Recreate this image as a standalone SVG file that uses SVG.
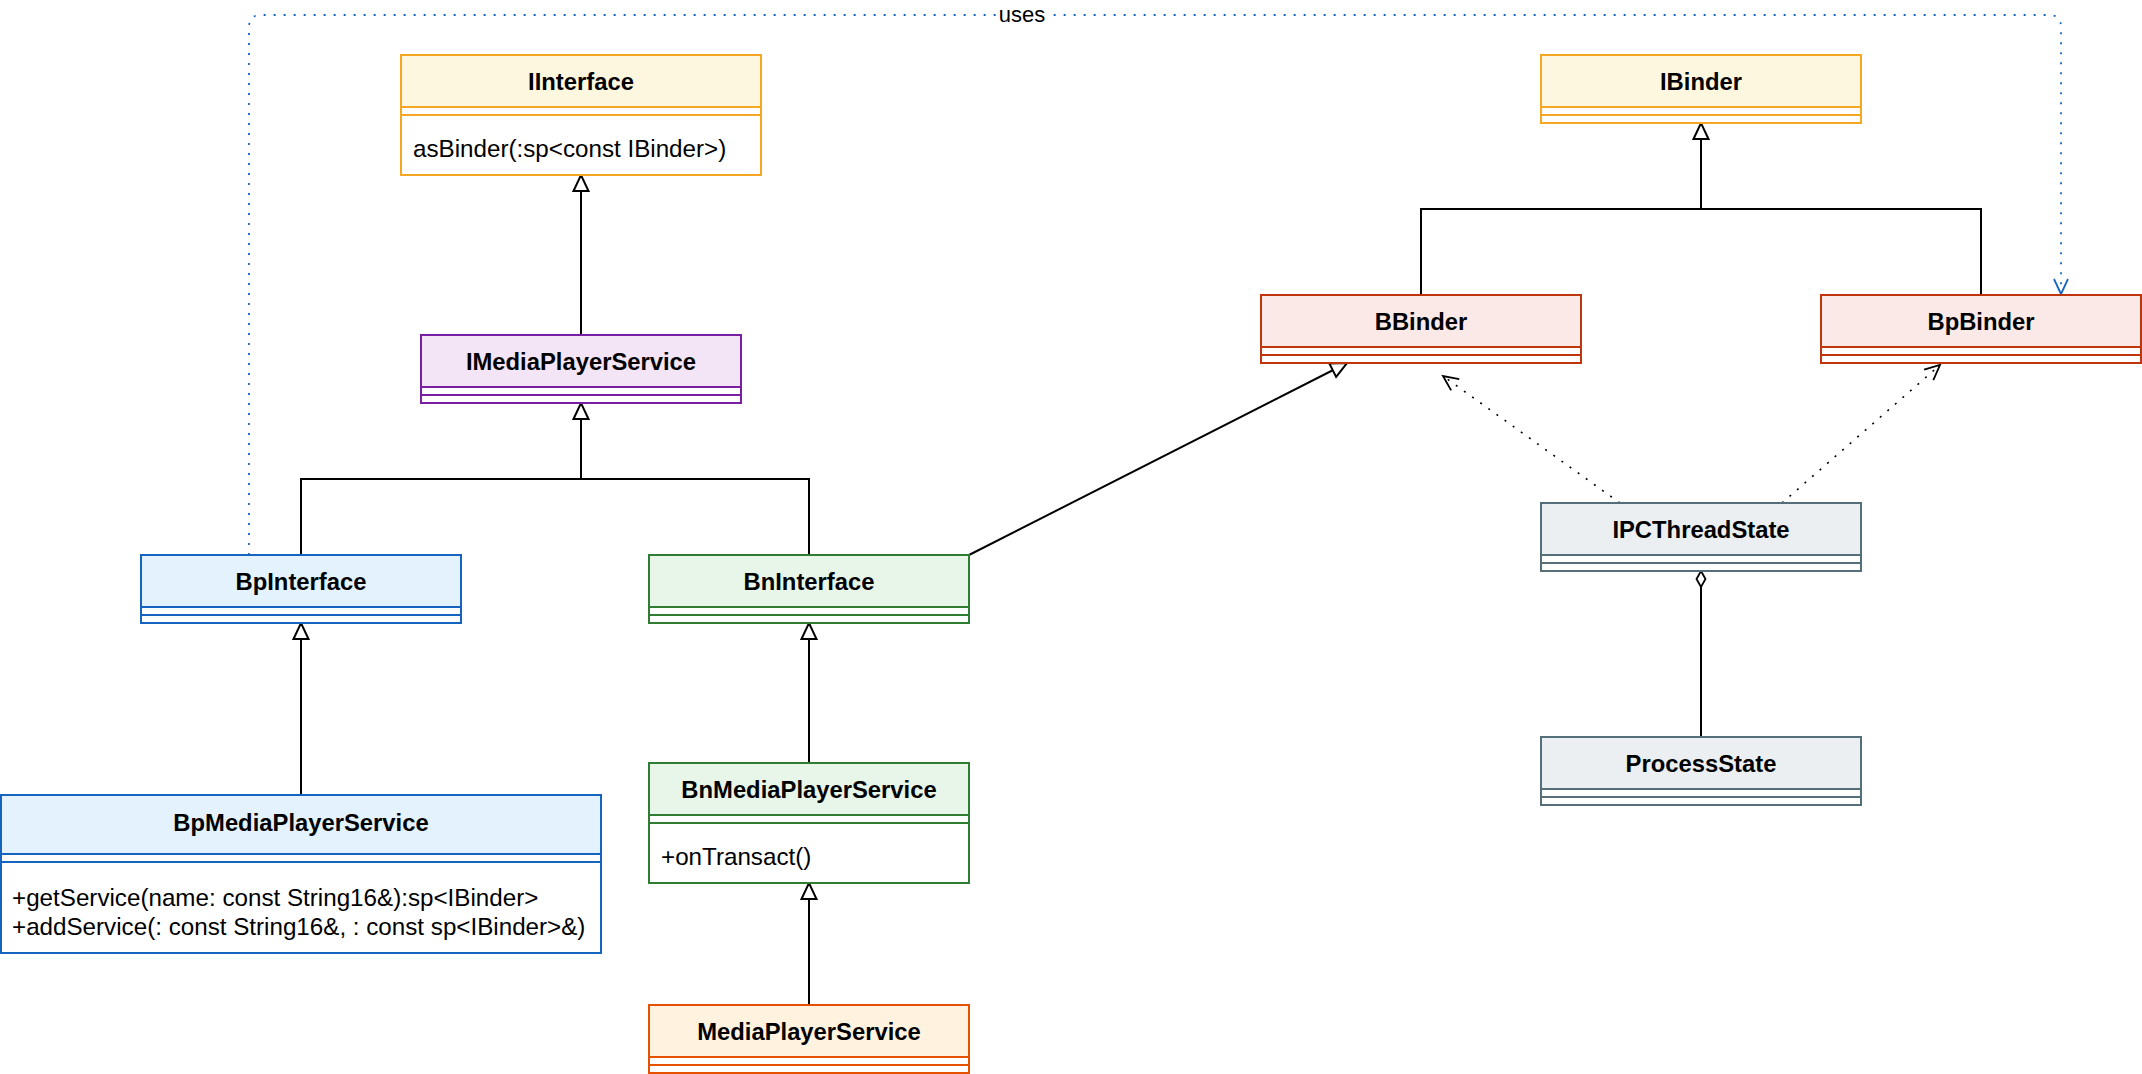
<svg xmlns="http://www.w3.org/2000/svg" width="2142" height="1074" viewBox="0 0 2142 1074">
<style>
.bg{fill:#ffffff}
.t{font-family:"Liberation Sans",Arial,Helvetica,sans-serif;font-size:23.8px;font-weight:bold;fill:#000;text-anchor:middle}
.m{font-family:"Liberation Sans",Arial,Helvetica,sans-serif;font-size:24.2px;fill:#000}
.lbl{font-family:"Liberation Sans",Arial,Helvetica,sans-serif;font-size:22px;fill:#000;text-anchor:middle}
.box{stroke-width:2}
.yel{fill:#fef7df;stroke:#f5a623}
.pur{fill:#f3e5f5;stroke:#7b1fa2}
.blu{fill:#e3f2fd;stroke:#1565c0}
.grn{fill:#e8f5e9;stroke:#2e7d32}
.org{fill:#fff3e0;stroke:#e65100}
.red{fill:#fbe9e7;stroke:#bf360c}
.gry{fill:#eceff1;stroke:#546e7a}
.wh{fill:#ffffff}
.ln{fill:none;stroke:#000;stroke-width:2}
.dot{fill:none;stroke:#000;stroke-width:1.6;stroke-dasharray:2 8}
.uses{fill:none;stroke:#1565c0;stroke-width:1.8;stroke-dasharray:2 8}
</style>
<defs>
<marker id="gen" viewBox="0 0 17 16" markerWidth="17" markerHeight="16" refX="17" refY="8" orient="auto" markerUnits="userSpaceOnUse" overflow="visible">
<path d="M1,0.5 L17,8 L1,15.5 Z" fill="#fff" stroke="#000" stroke-width="2"/>
</marker>
<marker id="open" viewBox="0 0 15 14" markerWidth="15" markerHeight="14" refX="15" refY="7" orient="auto" markerUnits="userSpaceOnUse" overflow="visible">
<path d="M0,0 L15,7 L0,14" fill="none" stroke="#000" stroke-width="1.8"/>
</marker>
<marker id="openblue" viewBox="0 0 15 14" markerWidth="15" markerHeight="14" refX="15" refY="7" orient="auto" markerUnits="userSpaceOnUse" overflow="visible">
<path d="M0,0 L15,7 L0,14" fill="none" stroke="#1565c0" stroke-width="1.8"/>
</marker>
</defs>
<rect class="bg" x="0" y="0" width="2142" height="1074"/>

<g id="connectors">
<path class="ln" d="M581,335 L581,175" marker-end="url(#gen)"/>
<path class="ln" d="M809,555 L809,479 L581,479"/>
<path class="ln" d="M301,555 L301,479 L581,479 L581,403" marker-end="url(#gen)"/>
<path class="ln" d="M301,795 L301,623" marker-end="url(#gen)"/>
<path class="ln" d="M809,763 L809,623" marker-end="url(#gen)"/>
<path class="ln" d="M809,1005 L809,883" marker-end="url(#gen)"/>
<path class="ln" d="M969,555 L1347,363" marker-end="url(#gen)"/>
<path class="ln" d="M1981,295 L1981,209 L1701,209"/>
<path class="ln" d="M1421,295 L1421,209 L1701,209 L1701,123" marker-end="url(#gen)"/>
<path class="dot" d="M1620,503 L1443,376" marker-end="url(#open)"/>
<path class="dot" d="M1782,503 L1940,365" marker-end="url(#open)"/>
<path class="ln" d="M1701,737 L1701,587"/>
<polygon points="1701,571 1705.5,579 1701,587 1696.5,579" fill="#fff" stroke="#000" stroke-width="1.8"/>
<path class="uses" d="M249,555 L249,27 Q249,15 261,15 L2049,15 Q2061,15 2061,27 L2061,294" marker-end="url(#openblue)"/>
<rect x="999" y="3" width="47" height="24" fill="#fff"/>
<text class="lbl" x="1022" y="22">uses</text>
</g>

<g id="IInterface">
<rect class="box yel wh" x="401" y="55" width="360" height="120"/>
<rect class="box yel" x="401" y="55" width="360" height="52"/>
<line x1="401" y1="115" x2="761" y2="115" stroke="#f5a623" stroke-width="2"/>
<text class="t" x="581" y="90">IInterface</text>
<text class="m" x="413" y="157">asBinder(:sp&lt;const IBinder&gt;)</text>
</g>

<g id="IMediaPlayerService">
<rect class="box pur wh" x="421" y="335" width="320" height="68"/>
<rect class="box pur" x="421" y="335" width="320" height="52"/>
<line x1="421" y1="395" x2="741" y2="395" stroke="#7b1fa2" stroke-width="2"/>
<text class="t" x="581" y="370">IMediaPlayerService</text>
</g>

<g id="BpInterface">
<rect class="box blu wh" x="141" y="555" width="320" height="68"/>
<rect class="box blu" x="141" y="555" width="320" height="52"/>
<line x1="141" y1="615" x2="461" y2="615" stroke="#1565c0" stroke-width="2"/>
<text class="t" x="301" y="590">BpInterface</text>
</g>

<g id="BnInterface">
<rect class="box grn wh" x="649" y="555" width="320" height="68"/>
<rect class="box grn" x="649" y="555" width="320" height="52"/>
<line x1="649" y1="615" x2="969" y2="615" stroke="#2e7d32" stroke-width="2"/>
<text class="t" x="809" y="590">BnInterface</text>
</g>

<g id="BpMediaPlayerService">
<rect class="box blu wh" x="1" y="795" width="600" height="158"/>
<rect class="box blu" x="1" y="795" width="600" height="59"/>
<line x1="1" y1="862" x2="601" y2="862" stroke="#1565c0" stroke-width="2"/>
<text class="t" x="301" y="831">BpMediaPlayerService</text>
<text class="m" x="12" y="906">+getService(name: const String16&amp;):sp&lt;IBinder&gt;</text>
<text class="m" x="12" y="935">+addService(: const String16&amp;, : const sp&lt;IBinder&gt;&amp;)</text>
</g>

<g id="BnMediaPlayerService">
<rect class="box grn wh" x="649" y="763" width="320" height="120"/>
<rect class="box grn" x="649" y="763" width="320" height="52"/>
<line x1="649" y1="823" x2="969" y2="823" stroke="#2e7d32" stroke-width="2"/>
<text class="t" x="809" y="798">BnMediaPlayerService</text>
<text class="m" x="661" y="865">+onTransact()</text>
</g>

<g id="MediaPlayerService">
<rect class="box org wh" x="649" y="1005" width="320" height="68"/>
<rect class="box org" x="649" y="1005" width="320" height="52"/>
<line x1="649" y1="1065" x2="969" y2="1065" stroke="#e65100" stroke-width="2"/>
<text class="t" x="809" y="1040">MediaPlayerService</text>
</g>

<g id="IBinder">
<rect class="box yel wh" x="1541" y="55" width="320" height="68"/>
<rect class="box yel" x="1541" y="55" width="320" height="52"/>
<line x1="1541" y1="115" x2="1861" y2="115" stroke="#f5a623" stroke-width="2"/>
<text class="t" x="1701" y="90">IBinder</text>
</g>

<g id="BBinder">
<rect class="box red wh" x="1261" y="295" width="320" height="68"/>
<rect class="box red" x="1261" y="295" width="320" height="52"/>
<line x1="1261" y1="355" x2="1581" y2="355" stroke="#bf360c" stroke-width="2"/>
<text class="t" x="1421" y="330">BBinder</text>
</g>

<g id="BpBinder">
<rect class="box red wh" x="1821" y="295" width="320" height="68"/>
<rect class="box red" x="1821" y="295" width="320" height="52"/>
<line x1="1821" y1="355" x2="2141" y2="355" stroke="#bf360c" stroke-width="2"/>
<text class="t" x="1981" y="330">BpBinder</text>
</g>

<g id="IPCThreadState">
<rect class="box gry wh" x="1541" y="503" width="320" height="68"/>
<rect class="box gry" x="1541" y="503" width="320" height="52"/>
<line x1="1541" y1="563" x2="1861" y2="563" stroke="#546e7a" stroke-width="2"/>
<text class="t" x="1701" y="538">IPCThreadState</text>
</g>

<g id="ProcessState">
<rect class="box gry wh" x="1541" y="737" width="320" height="68"/>
<rect class="box gry" x="1541" y="737" width="320" height="52"/>
<line x1="1541" y1="797" x2="1861" y2="797" stroke="#546e7a" stroke-width="2"/>
<text class="t" x="1701" y="772">ProcessState</text>
</g>
</svg>
